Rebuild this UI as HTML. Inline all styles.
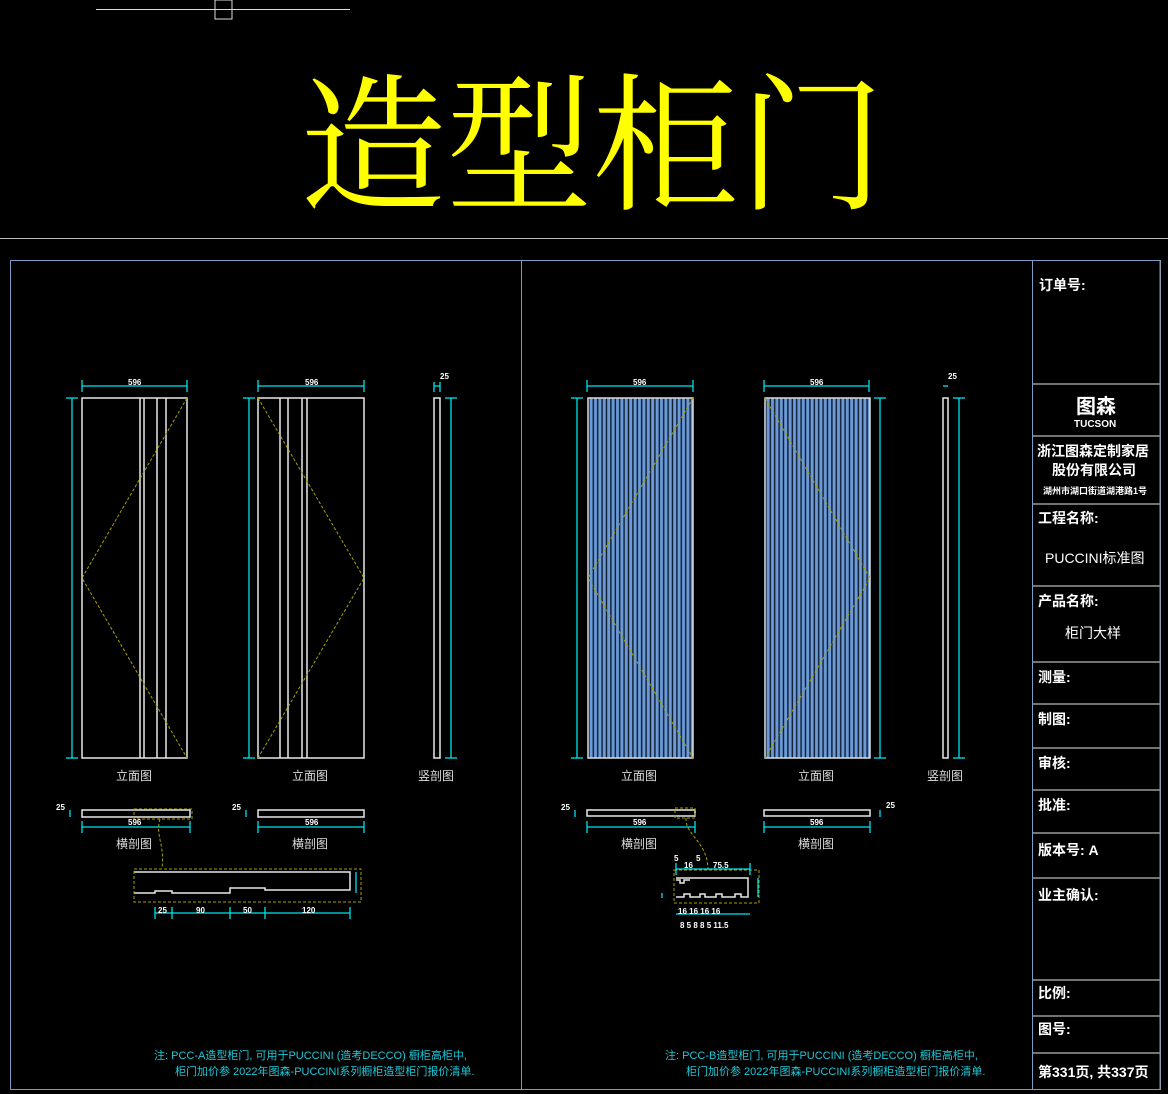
<!DOCTYPE html>
<html><head><meta charset="utf-8"><style>
html,body{margin:0;padding:0;background:#000;}
svg{display:block}
text{font-family:"Liberation Sans","Noto Sans CJK SC",sans-serif;}
</style></head><body>
<svg width="1168" height="1094" viewBox="0 0 1168 1094" xmlns="http://www.w3.org/2000/svg">
<defs>
<pattern id="sl" x="589" y="0" width="4.4" height="10" patternUnits="userSpaceOnUse">
<rect x="0" y="0" width="4.4" height="10" fill="#0d1a2e"/>
<rect x="0.6" y="0" width="3" height="10" fill="#6b9ad6"/>
</pattern>
<pattern id="sl2" x="766" y="0" width="4.4" height="10" patternUnits="userSpaceOnUse">
<rect x="0" y="0" width="4.4" height="10" fill="#0d1a2e"/>
<rect x="0.6" y="0" width="3" height="10" fill="#6b9ad6"/>
</pattern>
</defs>
<rect width="1168" height="1094" fill="#000"/>
<line x1="96" y1="9.5" x2="350" y2="9.5" stroke="#ddd" stroke-width="1"/>
<rect x="215" y="0" width="17" height="19" fill="none" stroke="#ddd" stroke-width="1"/>
<text x="300" y="198" font-size="148" fill="#ffff00" textLength="585" lengthAdjust="spacingAndGlyphs" style="font-family:'Noto Serif CJK SC',serif;font-weight:normal">造型柜门</text>
<line x1="0" y1="238.5" x2="1168" y2="238.5" stroke="#bbb" stroke-width="1"/>
<rect x="10.5" y="260.5" width="1150" height="829" fill="none" stroke="#7c9cc4" stroke-width="1"/>
<line x1="521.5" y1="260" x2="521.5" y2="1090" stroke="#7c9cc4"/>
<line x1="1032.5" y1="260" x2="1032.5" y2="1090" stroke="#7c9cc4"/>
<line x1="1160" y1="260" x2="1160" y2="1090" stroke="#999"/>
<g stroke="#999" stroke-width="1.5">
<line x1="1033" y1="384" x2="1160" y2="384"/>
<line x1="1033" y1="436" x2="1160" y2="436"/>
<line x1="1033" y1="504" x2="1160" y2="504"/>
<line x1="1033" y1="586" x2="1160" y2="586"/>
<line x1="1033" y1="662" x2="1160" y2="662"/>
<line x1="1033" y1="704" x2="1160" y2="704"/>
<line x1="1033" y1="748" x2="1160" y2="748"/>
<line x1="1033" y1="790" x2="1160" y2="790"/>
<line x1="1033" y1="833" x2="1160" y2="833"/>
<line x1="1033" y1="878" x2="1160" y2="878"/>
<line x1="1033" y1="980" x2="1160" y2="980"/>
<line x1="1033" y1="1016" x2="1160" y2="1016"/>
<line x1="1033" y1="1053" x2="1160" y2="1053"/>
</g>
<g fill="#fff" font-weight="bold" font-size="14">
<text x="1039" y="290">订单号:</text>
<text x="1076" y="413" font-size="20">图森</text>
<text x="1074" y="427" font-size="10">TUCSON</text>
<text x="1037" y="456" font-size="14">浙江图森定制家居</text>
<text x="1052" y="475" font-size="14">股份有限公司</text>
<text x="1043" y="494" font-size="9">湖州市湖口街道湖港路1号</text>
<text x="1038" y="523">工程名称:</text>
<text x="1045" y="563" font-weight="normal">PUCCINI标准图</text>
<text x="1038" y="606">产品名称:</text>
<text x="1065" y="638" font-weight="normal">柜门大样</text>
<text x="1038" y="682">测量:</text>
<text x="1038" y="724">制图:</text>
<text x="1038" y="768">审核:</text>
<text x="1038" y="810">批准:</text>
<text x="1038" y="855">版本号: A</text>
<text x="1038" y="900">业主确认:</text>
<text x="1038" y="998">比例:</text>
<text x="1038" y="1034">图号:</text>
<text x="1038" y="1077">第331页, 共337页</text>
</g>
<g fill="none" stroke="#e8e8e8" stroke-width="1.5">
<rect x="82" y="398" width="105" height="360"/>
<line x1="140" y1="398" x2="140" y2="758"/><line x1="144" y1="398" x2="144" y2="758"/>
<line x1="157" y1="398" x2="157" y2="758"/><line x1="166" y1="398" x2="166" y2="758"/>
<rect x="258" y="398" width="106" height="360"/>
<line x1="280" y1="398" x2="280" y2="758"/><line x1="288" y1="398" x2="288" y2="758"/>
<line x1="302" y1="398" x2="302" y2="758"/><line x1="307" y1="398" x2="307" y2="758"/>
<rect x="434" y="398" width="6" height="360"/>
<rect x="943" y="398" width="5" height="360"/>
<rect x="82" y="810" width="108" height="7"/>
<rect x="258" y="810" width="106" height="7"/>
<rect x="587" y="810" width="108" height="6"/>
<rect x="764" y="810" width="106" height="6"/>
<path d="M134 872 H350 V890 H265 V888 H230 V893 H172 V891 H155 V893 H134"/>
<path d="M676 878 H748 V897 H741 V894 H735 V897 H722 V894 H716 V897 H705 V894 H700 V897 H690 V894 H684 V897 H676 M676 880 H680 V883 H684 V880 H690"/>
</g>
<rect x="588" y="398" width="105" height="360" fill="url(#sl)" stroke="#ddd" stroke-width="1.5"/>
<rect x="765" y="398" width="105" height="360" fill="url(#sl2)" stroke="#ddd" stroke-width="1.5"/>
<g fill="none" stroke="#a8a000" stroke-width="1" stroke-dasharray="3,2">
<polyline points="187,398 82,578 187,758"/>
<polyline points="258,398 364,578 258,758"/>
<polyline points="693,398 588,578 693,758"/>
<polyline points="765,398 870,578 765,758"/>
<rect x="134" y="809" width="58" height="10"/>
<path d="M160 819 C155 835 165 845 162 868"/>
<rect x="134" y="869" width="227" height="33"/>
<rect x="675" y="808" width="20" height="10"/>
<path d="M686 818 C685 835 708 842 708 870"/>
<rect x="674" y="870" width="85" height="33"/>
</g>
<g stroke="#00e5ee" stroke-width="1.3" fill="none">
<line x1="82" y1="386" x2="187" y2="386"/><line x1="82" y1="380" x2="82" y2="392"/><line x1="187" y1="380" x2="187" y2="392"/>
<line x1="72" y1="398" x2="72" y2="758"/><line x1="66" y1="398" x2="78" y2="398"/><line x1="66" y1="758" x2="78" y2="758"/>
<line x1="258" y1="386" x2="364" y2="386"/><line x1="258" y1="380" x2="258" y2="392"/><line x1="364" y1="380" x2="364" y2="392"/>
<line x1="249" y1="398" x2="249" y2="758"/><line x1="243" y1="398" x2="255" y2="398"/><line x1="243" y1="758" x2="255" y2="758"/>
<line x1="451" y1="398" x2="451" y2="758"/><line x1="445" y1="398" x2="457" y2="398"/><line x1="445" y1="758" x2="457" y2="758"/>
<line x1="434" y1="386" x2="440" y2="386"/><line x1="434" y1="382" x2="434" y2="392"/><line x1="440" y1="382" x2="440" y2="392"/>
<line x1="587" y1="386" x2="693" y2="386"/><line x1="587" y1="380" x2="587" y2="392"/><line x1="693" y1="380" x2="693" y2="392"/>
<line x1="577" y1="398" x2="577" y2="758"/><line x1="571" y1="398" x2="583" y2="398"/><line x1="571" y1="758" x2="583" y2="758"/>
<line x1="764" y1="386" x2="869" y2="386"/><line x1="764" y1="380" x2="764" y2="392"/><line x1="869" y1="380" x2="869" y2="392"/>
<line x1="880" y1="398" x2="880" y2="758"/><line x1="874" y1="398" x2="886" y2="398"/><line x1="874" y1="758" x2="886" y2="758"/>
<line x1="959" y1="398" x2="959" y2="758"/><line x1="953" y1="398" x2="965" y2="398"/><line x1="953" y1="758" x2="965" y2="758"/>
<line x1="943" y1="386" x2="948" y2="386"/>
<line x1="82" y1="827" x2="190" y2="827"/><line x1="82" y1="821" x2="82" y2="833"/><line x1="190" y1="821" x2="190" y2="833"/>
<line x1="258" y1="827" x2="364" y2="827"/><line x1="258" y1="821" x2="258" y2="833"/><line x1="364" y1="821" x2="364" y2="833"/>
<line x1="587" y1="827" x2="695" y2="827"/><line x1="587" y1="821" x2="587" y2="833"/><line x1="695" y1="821" x2="695" y2="833"/>
<line x1="764" y1="827" x2="870" y2="827"/><line x1="764" y1="821" x2="764" y2="833"/><line x1="870" y1="821" x2="870" y2="833"/>
<line x1="70" y1="810" x2="70" y2="817"/><line x1="246" y1="810" x2="246" y2="817"/><line x1="575" y1="810" x2="575" y2="817"/><line x1="880" y1="810" x2="880" y2="817"/>
<line x1="155" y1="913" x2="350" y2="913"/><line x1="155" y1="907" x2="155" y2="919"/><line x1="172" y1="907" x2="172" y2="919"/><line x1="230" y1="907" x2="230" y2="919"/><line x1="265" y1="907" x2="265" y2="919"/><line x1="350" y1="907" x2="350" y2="919"/>
<line x1="356" y1="872" x2="356" y2="893"/>
<line x1="676" y1="869" x2="750" y2="869"/><line x1="676" y1="863" x2="676" y2="875"/><line x1="750" y1="863" x2="750" y2="875"/>
<line x1="758" y1="878" x2="758" y2="897"/>
<line x1="676" y1="914" x2="750" y2="914"/><line x1="662" y1="893" x2="662" y2="898"/>
</g>
<g fill="#fff" font-size="8" font-weight="bold">
<text x="128" y="385">596</text><text x="305" y="385">596</text><text x="440" y="379">25</text>
<text x="633" y="385">596</text><text x="810" y="385">596</text><text x="948" y="379">25</text>
<text x="128" y="825">596</text><text x="305" y="825">596</text><text x="633" y="825">596</text><text x="810" y="825">596</text>
<text x="56" y="810">25</text><text x="232" y="810">25</text><text x="561" y="810">25</text><text x="886" y="808">25</text>
<text x="158" y="913">25</text><text x="196" y="913">90</text><text x="243" y="913">50</text><text x="302" y="913">120</text>
<text x="684" y="868">16</text><text x="713" y="868">75.5</text><text x="674" y="861">5</text><text x="696" y="861">5</text>
<text x="678" y="914">16 16 16 16</text><text x="680" y="928">8  5  8  8  5 11.5</text>
</g>
<g fill="#ddd" font-size="12">
<text x="116" y="780">立面图</text><text x="292" y="780">立面图</text><text x="418" y="780">竖剖图</text>
<text x="621" y="780">立面图</text><text x="798" y="780">立面图</text><text x="927" y="780">竖剖图</text>
<text x="116" y="848">横剖图</text><text x="292" y="848">横剖图</text><text x="621" y="848">横剖图</text><text x="798" y="848">横剖图</text>
</g>
<g fill="#1ec8d8" font-size="11">
<text x="154" y="1059">注: PCC-A造型柜门, 可用于PUCCINI (造考DECCO) 橱柜高柜中,</text>
<text x="175" y="1075">柜门加价参 2022年图森-PUCCINI系列橱柜造型柜门报价清单.</text>
<text x="665" y="1059">注: PCC-B造型柜门, 可用于PUCCINI (造考DECCO) 橱柜高柜中,</text>
<text x="686" y="1075">柜门加价参 2022年图森-PUCCINI系列橱柜造型柜门报价清单.</text>
</g>
</svg>
</body></html>
